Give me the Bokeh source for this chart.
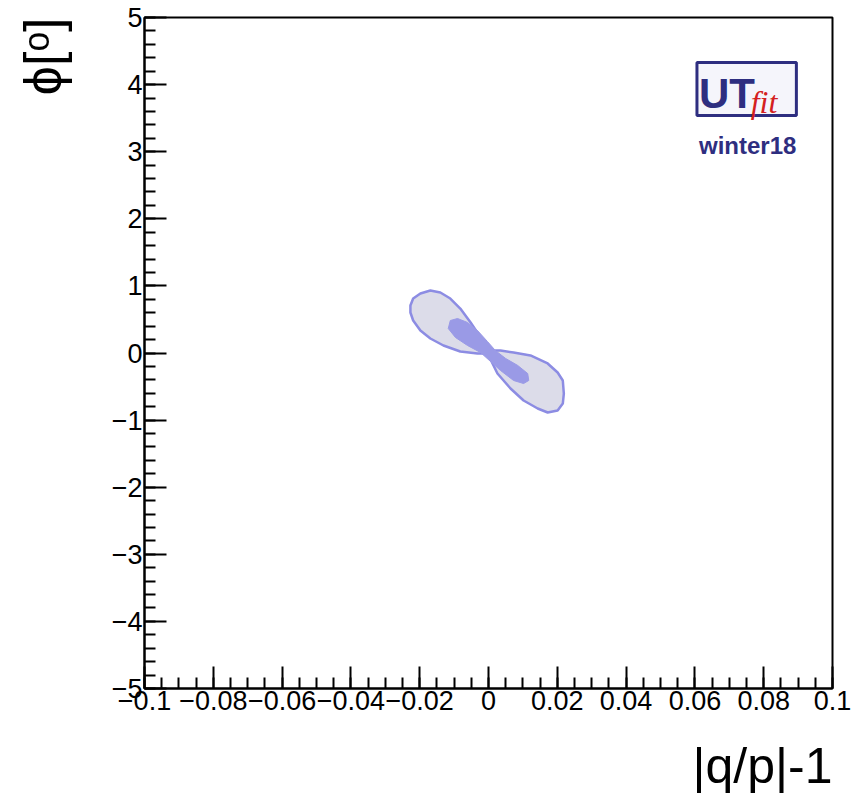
import numpy as np
from bokeh.plotting import figure
from bokeh.models import (Range1d, FixedTicker, CustomJSTickFormatter, Label,
                          BoxAnnotation, Title)
from bokeh.embed import file_html
from bokeh.resources import INLINE

# ---------------- data ----------------
x_ticks = [-0.1, -0.08, -0.06, -0.04, -0.02, 0.0, 0.02, 0.04, 0.06, 0.08, 0.1]
y_ticks = [-5, -4, -3, -2, -1, 0, 1, 2, 3, 4, 5]

# outer (95%) contour
outer_x = [0.0, -0.0032, -0.0082, -0.0131, -0.0169, -0.0198, -0.0219, -0.0227,
           -0.0227, -0.0219, -0.0198, -0.0169, -0.0140, -0.0111, -0.0082, -0.0052,
           -0.0023, -0.0006, 0.0006, 0.0035, 0.0073, 0.0122, 0.0172, 0.0201,
           0.0216, 0.0219, 0.0216, 0.0201, 0.0172, 0.0143, 0.0102, 0.0064,
           0.0026, 0.0006]
outer_y = [-0.007, -0.007, 0.022, 0.112, 0.216, 0.335, 0.484, 0.604,
           0.708, 0.812, 0.887, 0.931, 0.902, 0.812, 0.663, 0.455,
           0.231, 0.082, 0.037, 0.037, 0.007, -0.037, -0.156, -0.291,
           -0.410, -0.604, -0.753, -0.857, -0.887, -0.827, -0.708, -0.529,
           -0.306, -0.097]

# inner (68%) contour
inner_x = [-0.0117, -0.0111, -0.0090, -0.0061, -0.0032, -0.0003, 0.0020, 0.0050,
           0.0085, 0.0114, 0.0117, 0.0102, 0.0073, 0.0035, 0.0006, -0.0023,
           -0.0061, -0.0096]
inner_y = [0.365, 0.484, 0.514, 0.455, 0.335, 0.171, 0.037, -0.082,
           -0.186, -0.306, -0.410, -0.455, -0.410, -0.261, -0.127, 0.007,
           0.112, 0.231]

x_title = "|q/p|-1"
y_title = "\u03d5[\u1d52]"
logo_main = "UT"
logo_sub = "fit"
logo_tag = "winter18"

# ---------------- figure ----------------
FONT = "Liberation Sans"
p = figure(width=867, height=801, output_backend="svg", toolbar_location=None,
           x_range=Range1d(-0.1, 0.1), y_range=Range1d(-5, 5),
           min_border_left=144, min_border_right=35, min_border_top=17,
           min_border_bottom=113)
p.background_fill_color = "white"
p.border_fill_color = "white"
p.outline_line_color = "black"
p.outline_line_width = 2
p.xgrid.visible = False
p.ygrid.visible = False

fmt = CustomJSTickFormatter(code="""
    let s = (Math.abs(tick) < 1e-9) ? "0" : (+tick.toFixed(4)).toString();
    return s.replace("-", "\u2212");
""")

x_minor = list(np.round(np.arange(-0.1, 0.1001, 0.005), 4))
y_minor = list(np.round(np.arange(-5, 5.001, 0.2), 2))
p.xaxis.ticker = FixedTicker(ticks=x_ticks, minor_ticks=x_minor)
p.yaxis.ticker = FixedTicker(ticks=y_ticks, minor_ticks=y_minor)
for ax in (p.xaxis[0], p.yaxis[0]):
    ax.formatter = fmt
    ax.axis_line_width = 2
    ax.axis_line_color = "black"
    ax.major_tick_in = 22
    ax.major_tick_out = 0
    ax.minor_tick_in = 11
    ax.minor_tick_out = 0
    ax.major_tick_line_width = 2
    ax.minor_tick_line_width = 2
    ax.major_tick_line_color = "black"
    ax.minor_tick_line_color = "black"
    ax.major_label_text_font = FONT
    ax.major_label_text_font_size = "27px"
    ax.major_label_text_color = "black"
    ax.major_label_standoff = 2
    # blank spacer label to push the side titles outward
    ax.axis_label = " "
    ax.axis_label_text_font_size = "1px"
p.xaxis[0].axis_label_standoff = 17
p.yaxis[0].axis_label_standoff = 22

# contours
p.patch(outer_x, outer_y, fill_color="#dcdce9", line_color="#8c8ce3",
        line_width=2.5)
p.patch(inner_x, inner_y, fill_color="#9a9ae6", line_color="#9a9ae6",
        line_width=1)

# axis titles (as side titles so they are not clipped by the frame)
p.add_layout(Title(text=x_title, align="right", text_font=FONT,
                   text_font_size="50px", text_font_style="normal",
                   text_color="black", standoff=4), "below")
p.add_layout(Title(text=y_title, align="right", text_font=FONT,
                   text_font_size="52px", text_font_style="normal",
                   text_color="black", standoff=22), "left")

# logo
p.add_layout(BoxAnnotation(left=0.0606, right=0.0895, top=4.33, bottom=3.54,
                           fill_color="#f5f5fb", fill_alpha=1.0,
                           line_color="#2e2e80", line_alpha=1.0, line_width=3))
p.add_layout(Label(x=0.0612, y=3.86, text=logo_main, text_font=FONT,
                   text_font_size="42px", text_font_style="bold",
                   text_color="#2e2e80", text_baseline="alphabetic"))
p.add_layout(Label(x=0.0762, y=3.74, text=logo_sub, text_font="Liberation Serif",
                   text_font_size="32px", text_font_style="italic",
                   text_color="#d42020", text_baseline="alphabetic"))
p.add_layout(Label(x=0.0612, y=3.09, text=logo_tag, text_font=FONT,
                   text_font_size="24px", text_font_style="bold",
                   text_color="#2e2e80", text_baseline="alphabetic"))

open("out.html", "w").write(file_html(p, INLINE))
